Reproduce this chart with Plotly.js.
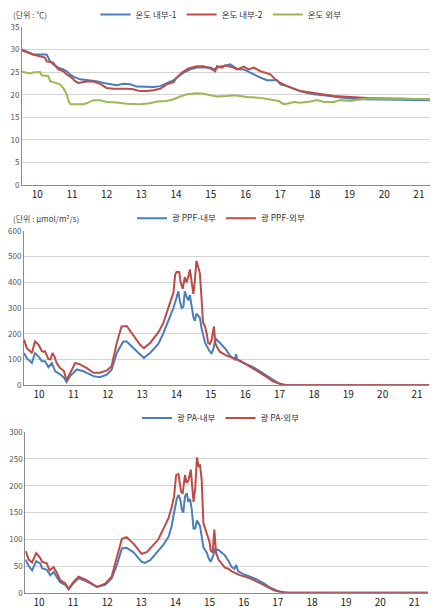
<!DOCTYPE html>
<html>
<head>
<meta charset="utf-8">
<script src="https://cdn.plot.ly/plotly-3.0.1.min.js"></script>
<style>html,body{margin:0;padding:0;background:#fff;}#chart{width:442px;height:616px;}</style>
</head>
<body>
<div id="chart"></div>
<script>
// ---------- Panel 1: temperature (°C) ----------
const tempIn1Hours = [9.56,9.88,10.27,10.32,10.37,10.46,10.61,10.75,10.85,10.94,11.04,11.23,11.42,11.71,11.91,12.10,12.29,12.48,12.68,12.87,13.06,13.35,13.54,13.73,13.93,14.07,14.22,14.41,14.60,14.79,14.99,15.08,15.27,15.47,15.56,15.66,15.76,15.95,16.04,16.24,16.43,16.62,16.91,17.01,17.20,17.39,17.58,17.78,17.97,18.26,18.55,18.93,19.32,19.99,20.47,21.32];
const tempIn1 = [30.0,28.9,28.9,28.2,27.4,26.7,26.0,25.6,25.2,24.5,24.0,23.4,23.2,23.0,22.6,22.3,22.1,22.4,22.3,21.8,21.7,21.7,21.9,22.6,23.2,24.1,24.9,25.6,26.0,26.1,26.0,25.6,26.2,26.5,26.7,26.2,25.7,25.6,25.2,24.5,23.8,23.2,23.2,22.3,21.9,21.3,20.8,20.4,20.1,19.9,19.6,19.2,19.0,19.0,18.9,18.8];

const tempIn2Hours = [9.56,9.69,9.88,10.08,10.22,10.27,10.46,10.51,10.61,10.75,10.85,10.99,11.09,11.18,11.42,11.62,11.81,12.00,12.19,12.58,12.77,12.96,13.16,13.35,13.54,13.73,13.93,14.02,14.17,14.36,14.60,14.79,14.99,15.13,15.18,15.32,15.42,15.51,15.66,15.76,15.95,16.09,16.24,16.43,16.62,16.72,16.86,17.01,17.20,17.39,17.58,17.78,18.07,18.55,19.03,19.51,20.47,21.32];
const tempIn2 = [29.8,29.4,28.9,28.5,28.2,27.4,27.1,26.5,25.6,25.2,24.5,23.8,23.0,22.6,22.9,22.9,22.4,21.5,21.3,21.3,21.2,20.8,20.8,21.0,21.3,22.3,22.8,23.8,24.9,25.8,26.3,26.3,25.8,25.2,26.3,26.0,26.5,26.3,26.0,25.6,26.2,25.6,26.0,25.2,24.7,24.5,23.4,22.6,21.9,21.4,20.8,20.6,20.2,19.7,19.5,19.3,19.1,19.0];

const tempOutHours = [9.56,9.79,9.88,10.08,10.13,10.32,10.37,10.56,10.65,10.75,10.85,10.90,10.96,11.33,11.42,11.62,11.81,12.00,12.29,12.58,12.96,13.25,13.45,13.73,13.93,14.12,14.31,14.60,14.79,14.99,15.18,15.47,15.66,15.85,16.04,16.43,16.62,16.81,16.96,17.10,17.20,17.39,17.58,17.87,18.07,18.26,18.55,18.74,19.03,19.32,19.51,20.47,21.32];
const tempOut = [25.1,24.7,24.9,25.0,24.3,24.1,23.0,22.6,22.3,21.5,20.1,18.6,17.9,17.9,18.1,18.8,18.8,18.4,18.3,18.0,17.9,18.1,18.5,18.6,19.0,19.6,20.1,20.3,20.2,19.9,19.6,19.7,19.9,19.7,19.5,19.3,19.1,18.8,18.6,17.9,18.0,18.4,18.2,18.5,18.8,18.4,18.4,18.8,18.6,19.0,19.1,19.1,19.0];

// ---------- Panel 2: PPF (umol/m2/s) ----------
const ppfInHours = [9.56,9.64,9.79,9.88,9.98,10.08,10.17,10.27,10.37,10.47,10.61,10.72,10.80,10.90,11.10,11.29,11.58,11.77,11.97,12.11,12.26,12.45,12.55,12.74,12.94,13.05,13.23,13.47,13.61,13.76,13.91,14.00,14.05,14.10,14.15,14.20,14.24,14.29,14.34,14.39,14.44,14.49,14.53,14.58,14.63,14.68,14.73,14.78,14.83,14.87,14.92,14.97,15.02,15.07,15.12,15.16,15.26,15.36,15.46,15.55,15.65,15.70,15.73,15.77,15.85,16.04,16.23,16.42,16.62,16.81,16.96,17.10,17.30,21.35];
const ppfIn = [125,105,86,125,112,93,93,70,86,54,42,30,12,35,61,54,35,31,41,60,125,170,170,144,119,106,125,160,200,250,300,340,365,325,300,305,365,345,330,350,300,265,250,278,270,262,220,190,165,155,140,130,124,140,170,178,165,150,135,115,105,100,120,100,92,82,70,55,38,20,8,3,0,0];

const ppfOutHours = [9.56,9.64,9.74,9.79,9.88,9.98,10.08,10.13,10.17,10.27,10.33,10.39,10.45,10.51,10.60,10.66,10.72,10.80,10.90,11.05,11.19,11.39,11.58,11.77,11.97,12.11,12.26,12.40,12.55,12.74,12.94,13.05,13.23,13.47,13.61,13.71,13.81,13.91,13.96,14.00,14.08,14.12,14.18,14.24,14.29,14.34,14.39,14.44,14.49,14.53,14.58,14.63,14.68,14.73,14.77,14.83,14.88,14.92,14.97,15.02,15.09,15.13,15.17,15.26,15.46,15.65,15.85,16.04,16.23,16.42,16.62,16.81,17.00,17.20,21.35];
const ppfOut = [178,144,132,125,170,158,132,130,132,101,100,125,110,86,68,62,55,19,48,86,81,66,48,48,57,74,164,228,230,196,157,144,164,205,240,280,320,360,430,440,440,400,375,420,400,420,450,410,355,400,484,460,435,333,245,228,200,164,160,175,228,165,150,130,115,105,95,80,65,50,32,15,5,0,0];

// ---------- Panel 3: PA ----------
const paInHours = [9.61,9.70,9.80,9.92,10.04,10.09,10.23,10.33,10.43,10.52,10.62,10.77,10.87,11.01,11.16,11.38,11.70,11.94,12.13,12.28,12.43,12.57,12.77,13.01,13.11,13.26,13.50,13.65,13.80,13.89,13.96,14.04,14.09,14.14,14.19,14.23,14.28,14.33,14.38,14.43,14.48,14.53,14.58,14.63,14.72,14.77,14.82,14.92,14.97,15.03,15.11,15.16,15.26,15.36,15.45,15.55,15.65,15.73,15.78,15.84,15.99,16.19,16.38,16.58,16.77,16.97,17.16,17.36,21.41];
const paIn = [62,50,42,59,55,46,43,33,39,30,20,15,7,18,27,22,11,15,27,51,83,84,76,58,56,61,78,90,105,125,150,175,183,175,155,150,180,186,170,175,155,120,120,135,125,100,85,75,65,58,70,82,80,75,70,60,48,45,52,40,35,30,25,18,10,4,1,0,0];

const paOutHours = [9.61,9.70,9.80,9.92,10.04,10.09,10.23,10.31,10.43,10.52,10.62,10.77,10.87,11.01,11.16,11.38,11.70,11.94,12.13,12.28,12.43,12.57,12.77,13.01,13.16,13.36,13.50,13.65,13.80,13.89,13.96,14.02,14.09,14.16,14.21,14.28,14.33,14.38,14.45,14.53,14.58,14.63,14.68,14.72,14.77,14.82,14.90,14.94,15.00,15.03,15.09,15.14,15.19,15.26,15.36,15.45,15.55,15.65,15.89,16.19,16.48,16.67,16.87,17.06,17.26,21.41];
const paOut = [78,62,57,74,65,58,55,42,48,38,24,18,7,20,30,24,11,17,30,67,101,104,92,73,76,90,100,120,140,160,180,220,222,190,185,220,205,210,230,170,195,253,235,240,210,130,115,105,95,80,75,118,75,62,55,47,45,40,33,27,18,12,5,2,0,0];

const hourTicks = [10,11,12,13,14,15,16,17,18,19,20,21];
const names1 = ['온도 내부-1','온도 내부-2','온도 외부'];
const names2 = ['광 PPF-내부','광 PPF-외부'];
const names3 = ['광 PA-내부','광 PA-외부'];

const BLUE = '#4a7ebb', RED = '#be4b48', GREEN = '#98b954';
const FONT = '"Noto Sans CJK KR", "Noto Sans", sans-serif';

function ln(x, y, name, color, xa, ya, leg) {
  return {x: x, y: y, name: name, type: 'scatter', mode: 'lines',
    line: {color: color, width: 2}, xaxis: xa, yaxis: ya, legend: leg, hoverinfo: 'skip'};
}

const data = [
  ln(tempIn1Hours, tempIn1, names1[0], BLUE, 'x', 'y', 'legend'),
  ln(tempIn2Hours, tempIn2, names1[1], RED, 'x', 'y', 'legend'),
  ln(tempOutHours, tempOut, names1[2], GREEN, 'x', 'y', 'legend'),
  ln(ppfInHours, ppfIn, names2[0], BLUE, 'x2', 'y2', 'legend2'),
  ln(ppfOutHours, ppfOut, names2[1], RED, 'x2', 'y2', 'legend2'),
  ln(paInHours, paIn, names3[0], BLUE, 'x3', 'y3', 'legend3'),
  ln(paOutHours, paOut, names3[1], RED, 'x3', 'y3', 'legend3')
];

function xax(domain, range, anchor) {
  return {domain: domain, range: range, anchor: anchor, tickmode: 'array', tickvals: hourTicks,
    showgrid: false, zeroline: false, showline: true, linecolor: '#8c8c8c', linewidth: 1,
    ticks: '', tickfont: {size: 10, color: '#222', family: FONT}, fixedrange: true};
}
function yax(domain, range, dtick, anchor) {
  return {domain: domain, range: range, dtick: dtick, anchor: anchor, showgrid: true,
    gridcolor: '#d4d4d4', gridwidth: 1, zeroline: false, showline: true, linecolor: '#8c8c8c',
    linewidth: 1, ticks: '', tickfont: {size: 8, color: '#555', family: FONT}, fixedrange: true};
}
function leg(y) {
  return {orientation: 'h', x: 0.5, xanchor: 'center', y: y, yanchor: 'middle',
    font: {size: 8.5, color: '#333', family: FONT}, bgcolor: 'rgba(0,0,0,0)', itemwidth: 30,
    tracegroupgap: 0};
}

const layout = {
  width: 442, height: 616, autosize: false,
  margin: {l: 0, r: 0, t: 0, b: 0},
  paper_bgcolor: '#fff', plot_bgcolor: '#fff',
  font: {family: FONT},
  showlegend: true,
  xaxis: xax([0.0498, 0.9729], [9.56, 21.32], 'y'),
  yaxis: yax([0.7029, 0.961], [0, 35], 5, 'x'),
  xaxis2: xax([0.0543, 0.9706], [9.56, 21.35], 'y2'),
  yaxis2: yax([0.3766, 0.6282], [0, 600], 100, 'x2'),
  xaxis3: xax([0.0572, 0.969], [9.6, 21.41], 'y3'),
  yaxis3: yax([0.0378, 0.2998], [0, 300], 50, 'x3'),
  legend: leg(0.982),
  legend2: leg(0.649),
  legend3: leg(0.323),
  annotations: [
    {text: '(단위 : ℃)', xref: 'paper', yref: 'paper', x: 0.025, y: 0.981, xanchor: 'left', yanchor: 'middle',
     showarrow: false, font: {size: 8, color: '#444', family: FONT}},
    {text: '(단위 : μmol/m²/s)', xref: 'paper', yref: 'paper', x: 0.025, y: 0.649, xanchor: 'left', yanchor: 'middle',
     showarrow: false, font: {size: 8, color: '#444', family: FONT}}
  ]
};

Plotly.newPlot('chart', data, layout, {displayModeBar: false, staticPlot: true});
</script>
</body>
</html>
